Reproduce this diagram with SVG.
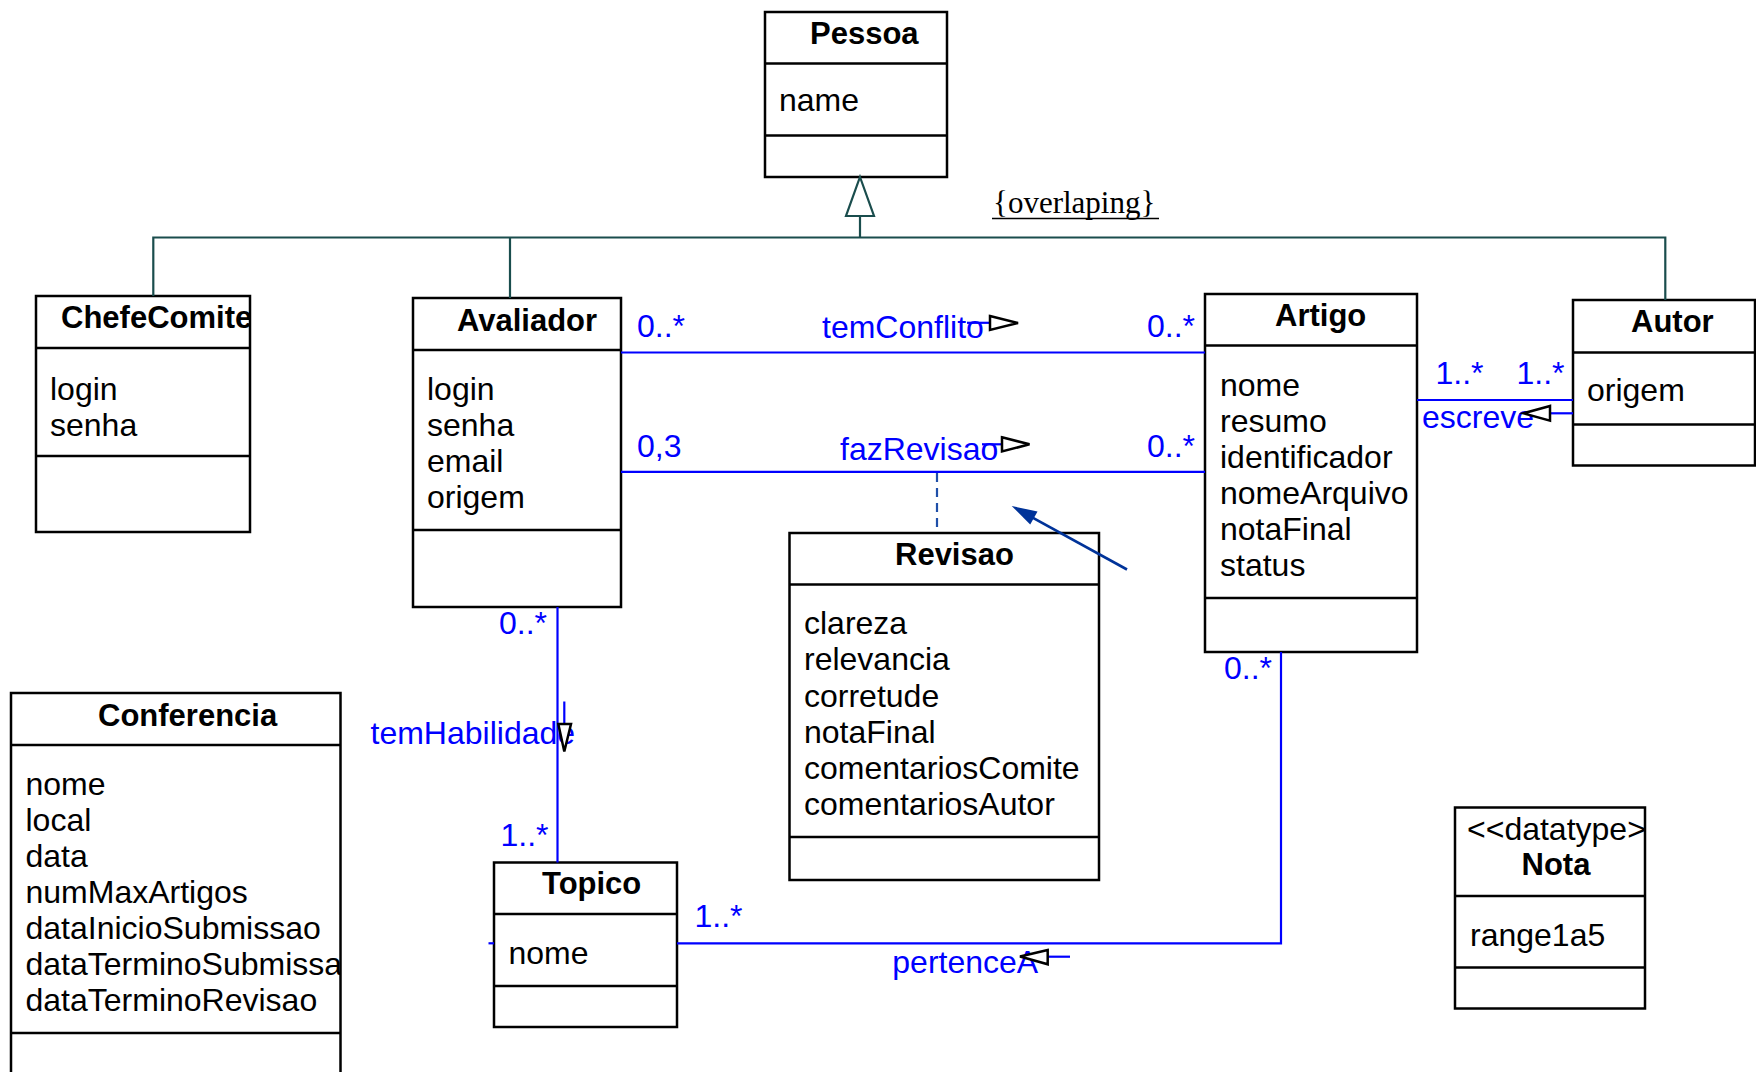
<svg xmlns="http://www.w3.org/2000/svg" width="1756" height="1072" viewBox="0 0 1756 1072">
<style>
.bg{fill:#fff}
.box{fill:#fff;stroke:#000;stroke-width:2.5}
.sep{stroke:#000;stroke-width:2.5}
text{font-family:"Liberation Sans",Arial,Helvetica,sans-serif;font-size:32px;fill:#000}
.tb{font-weight:bold;font-size:31px}
.lbl{fill:#0000ff}
.assoc{stroke:#0000ff;stroke-width:2.2;fill:none}
.gen{stroke:#1a4d4d;stroke-width:2.2;fill:none}
.dir{fill:#fff;stroke:#000;stroke-width:2.5;stroke-linejoin:miter}
.dash{stroke:#1f4fa8;stroke-width:2.2;stroke-dasharray:9 6;fill:none}
.navy{stroke:#003399;stroke-width:2.6;fill:none}
.ovl{font-family:"Liberation Serif","Times New Roman",serif;font-size:31px}
</style>
<defs>
<clipPath id="cChefe"><rect x="36" y="296" width="214" height="236"/></clipPath>
<clipPath id="cConf"><rect x="11" y="693" width="329.5" height="390"/></clipPath>
<clipPath id="cNota"><rect x="1455" y="807" width="190" height="201"/></clipPath>
</defs>
<rect class="bg" x="0" y="0" width="1756" height="1072"/>

<g id="Pessoa">
<rect class="box" x="765" y="12" width="182" height="165"/>
<line class="sep" x1="765" y1="63.5" x2="947" y2="63.5"/>
<line class="sep" x1="765" y1="135.5" x2="947" y2="135.5"/>
<text class="tb" x="810" y="44">Pessoa</text>
<text x="779" y="111">name</text>
</g>

<g id="ChefeComite">
<rect class="box" x="36" y="296" width="214" height="236"/>
<line class="sep" x1="36" y1="348" x2="250" y2="348"/>
<line class="sep" x1="36" y1="456" x2="250" y2="456"/>
<g clip-path="url(#cChefe)"><text class="tb" x="61" y="328">ChefeComite</text></g>
<text x="50" y="400">login</text>
<text x="50" y="436">senha</text>
</g>

<g id="Avaliador">
<rect class="box" x="413" y="298" width="208" height="309"/>
<line class="sep" x1="413" y1="350" x2="621" y2="350"/>
<line class="sep" x1="413" y1="530" x2="621" y2="530"/>
<text class="tb" x="457" y="331">Avaliador</text>
<text x="427" y="400">login</text>
<text x="427" y="436">senha</text>
<text x="427" y="472">email</text>
<text x="427" y="508">origem</text>
</g>

<g id="Artigo">
<rect class="box" x="1205" y="294" width="212" height="358"/>
<line class="sep" x1="1205" y1="345.5" x2="1417" y2="345.5"/>
<line class="sep" x1="1205" y1="598" x2="1417" y2="598"/>
<text class="tb" x="1275" y="326">Artigo</text>
<text x="1220" y="396">nome</text>
<text x="1220" y="432">resumo</text>
<text x="1220" y="468">identificador</text>
<text x="1220" y="504">nomeArquivo</text>
<text x="1220" y="540">notaFinal</text>
<text x="1220" y="576">status</text>
</g>

<g id="Autor">
<rect class="box" x="1573" y="300" width="182" height="165.5"/>
<line class="sep" x1="1573" y1="352.5" x2="1755" y2="352.5"/>
<line class="sep" x1="1573" y1="424.5" x2="1755" y2="424.5"/>
<text class="tb" x="1631" y="332">Autor</text>
<text x="1587" y="401">origem</text>
</g>

<g id="Revisao">
<rect class="box" x="789.5" y="533" width="309.5" height="347"/>
<line class="sep" x1="789.5" y1="584.5" x2="1099" y2="584.5"/>
<line class="sep" x1="789.5" y1="837" x2="1099" y2="837"/>
<text class="tb" x="895" y="565">Revisao</text>
<text x="804" y="634">clareza</text>
<text x="804" y="670">relevancia</text>
<text x="804" y="706.5">corretude</text>
<text x="804" y="743">notaFinal</text>
<text x="804" y="779">comentariosComite</text>
<text x="804" y="815">comentariosAutor</text>
</g>

<g id="Topico">
<rect class="box" x="494" y="862.5" width="183" height="164.5"/>
<line class="sep" x1="494" y1="914" x2="677" y2="914"/>
<line class="sep" x1="494" y1="986" x2="677" y2="986"/>
<text class="tb" x="542" y="894">Topico</text>
<text x="508.5" y="963.5">nome</text>
</g>

<g id="Conferencia">
<rect class="box" x="11" y="693" width="329.5" height="390"/>
<line class="sep" x1="11" y1="745" x2="340.5" y2="745"/>
<line class="sep" x1="11" y1="1033" x2="340.5" y2="1033"/>
<text class="tb" x="98" y="726">Conferencia</text>
<g clip-path="url(#cConf)">
<text x="25.5" y="795">nome</text>
<text x="25.5" y="831">local</text>
<text x="25.5" y="867">data</text>
<text x="25.5" y="903">numMaxArtigos</text>
<text x="25.5" y="939">dataInicioSubmissao</text>
<text x="25.5" y="975">dataTerminoSubmissao</text>
<text x="25.5" y="1011">dataTerminoRevisao</text>
</g>
</g>

<g id="Nota">
<rect class="box" x="1455" y="807.5" width="190" height="201"/>
<line class="sep" x1="1455" y1="896" x2="1645" y2="896"/>
<line class="sep" x1="1455" y1="967.5" x2="1645" y2="967.5"/>
<g clip-path="url(#cNota)"><text x="1467" y="840">&lt;&lt;datatype&gt;&gt;</text></g>
<text class="tb" x="1521.5" y="875">Nota</text>
<text x="1470" y="946">range1a5</text>
</g>

<g id="connectors">
<g id="gen-Pessoa">
<polyline class="gen" points="153.3,296 153.3,237.5 1665.3,237.5 1665.3,300"/>
<line class="gen" x1="510" y1="237.5" x2="510" y2="298"/>
<line class="gen" x1="860" y1="216" x2="860" y2="237.5"/>
<polygon class="gen" fill="#fff" points="860,177 874,216 846,216"/>
<text class="ovl" x="993" y="213">{overlaping}</text>
<line x1="992" y1="218.5" x2="1159" y2="218.5" stroke="#000" stroke-width="1.6"/>
</g>

<g id="temConflito">
<line class="assoc" x1="621" y1="352.5" x2="1205" y2="352.5"/>
<text class="lbl" x="637" y="337">0..*</text>
<text class="lbl" x="1147" y="337">0..*</text>
<text class="lbl" x="822" y="338">temConflito</text>
<line class="assoc" x1="967" y1="322.8" x2="990" y2="322.8"/>
<polygon class="dir" points="990,316 1018,323 990,330"/>
</g>

<g id="fazRevisao">
<line class="assoc" x1="621" y1="471.8" x2="1205" y2="471.8"/>
<text class="lbl" x="637" y="457">0,3</text>
<text class="lbl" x="1147" y="457">0..*</text>
<text class="lbl" x="840" y="460">fazRevisao</text>
<line class="assoc" x1="982" y1="444.3" x2="1002" y2="444.3"/>
<polygon class="dir" points="1002,437.3 1029.5,444.3 1002,451.5"/>
<line class="dash" x1="937" y1="473" x2="937" y2="533"/>
</g>

<g id="navyArrow">
<line class="navy" x1="1127" y1="569.5" x2="1028" y2="515.2"/>
<polygon fill="#003399" points="1011.7,506 1037.5,511.5 1030.2,524.5"/>
</g>

<g id="escreve">
<line class="assoc" x1="1417" y1="400" x2="1573" y2="400"/>
<text class="lbl" x="1435.5" y="383.5">1..*</text>
<text class="lbl" x="1516.5" y="383.5">1..*</text>
<text class="lbl" x="1422" y="428">escreve</text>
<line class="assoc" x1="1550" y1="413.3" x2="1573" y2="413.3"/>
<polygon class="dir" points="1550,406 1523.5,413.3 1550,420.7"/>
</g>

<g id="temHabilidade">
<line class="assoc" x1="557.5" y1="607" x2="557.5" y2="862.5"/>
<text class="lbl" x="499" y="634">0..*</text>
<text class="lbl" x="500.5" y="846">1..*</text>
<text class="lbl" x="370.5" y="743.5">temHabilidade</text>
<line class="assoc" x1="564.3" y1="701.5" x2="564.3" y2="724"/>
<polygon class="dir" points="558.3,724 571,724 564.3,751.5"/>
</g>

<g id="pertenceA">
<polyline class="assoc" points="677,943.3 1281,943.3 1281,652"/>
<line class="assoc" x1="488.5" y1="943.3" x2="494" y2="943.3"/>
<text class="lbl" x="694.5" y="927">1..*</text>
<text class="lbl" x="1224" y="679">0..*</text>
<text class="lbl" x="892.3" y="973">pertenceA</text>
<line class="assoc" x1="1047.7" y1="956.7" x2="1070" y2="956.7"/>
<polygon class="dir" points="1047.7,950 1020,956.5 1047.7,964.3"/>
</g>
</g>
</svg>
